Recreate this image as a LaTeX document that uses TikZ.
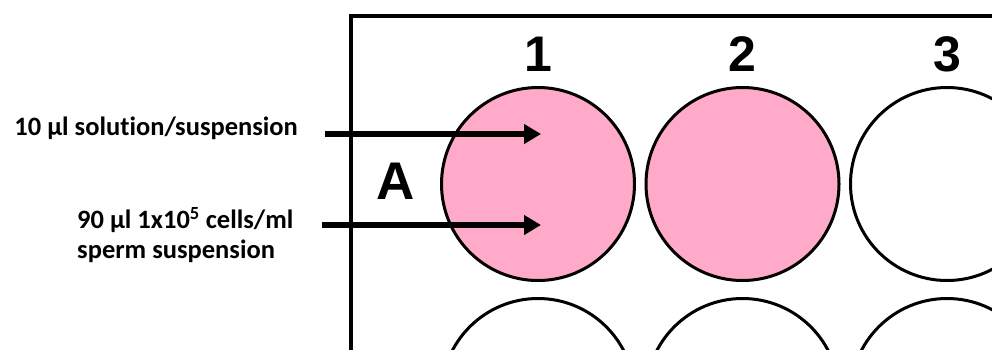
\documentclass[tikz,border=0pt]{standalone}
\usepackage{fontspec}
\setmainfont{Carlito}[Ligatures=NoCommon]
\newfontfamily\platefont{Liberation Sans}
\usetikzlibrary{arrows.meta,calc}
\definecolor{wellpink}{RGB}{255,170,200}

\begin{document}
\begin{tikzpicture}[x=1pt,y=-1pt,>={Triangle[length=17pt,width=19pt]},
  well/.style={circle,draw=black,line width=3pt,minimum size=193pt,inner sep=0pt},
  dosed/.style={well,fill=wellpink},
  pipette/.style={->,line width=6pt},
  lbl/.style={font=\fontsize{26.5}{30.5}\selectfont\bfseries,inner sep=0pt},
  platetxt/.style={font=\platefont\bfseries\fontsize{50}{50}\selectfont,inner sep=0pt}]
\useasboundingbox (0,0) rectangle (992,349);
\clip (0,0) rectangle (992,349);
% plate outline
\draw[line width=4pt] (351,400) |- (1000,16);
% column and row labels
\node[platetxt] (col1) at (538,54) {1};
\node[platetxt] (col2) at (742.5,54) {2};
\node[platetxt] (col3) at (947,54) {3};
\node[platetxt,font=\platefont\bfseries\fontsize{53}{53}\selectfont] (rowA) at (396,181) {A};
% wells
\node[dosed] (wA1) at (538,184) {};
\node[dosed] (wA2) at (742.5,184) {};
\node[well] (wA3) at (947,184) {};
\node[well] (wB1) at (538,395) {};
\node[well] (wB2) at (742.5,395) {};
\node[well] (wB3) at (947,395) {};
% what goes into well A1
\node[lbl,anchor=base east] (lblsol) at (298,135) {10 µl solution/suspension};
\node[lbl,anchor=north west,align=left] (lblsperm) at (77,207) {90 µl 1x10\textsuperscript{5} cells/ml\\sperm suspension};
\coordinate (soltip) at ([shift={(3,-50)}]wA1.center);
\coordinate (spermtip) at ([shift={(3,41)}]wA1.center);
\draw[pipette] ($(lblsol.east |- soltip)+(27,0)$) -- (soltip);
\draw[pipette] ($(lblsperm.east |- spermtip)+(28,0)$) -- (spermtip);
\end{tikzpicture}
\end{document}
